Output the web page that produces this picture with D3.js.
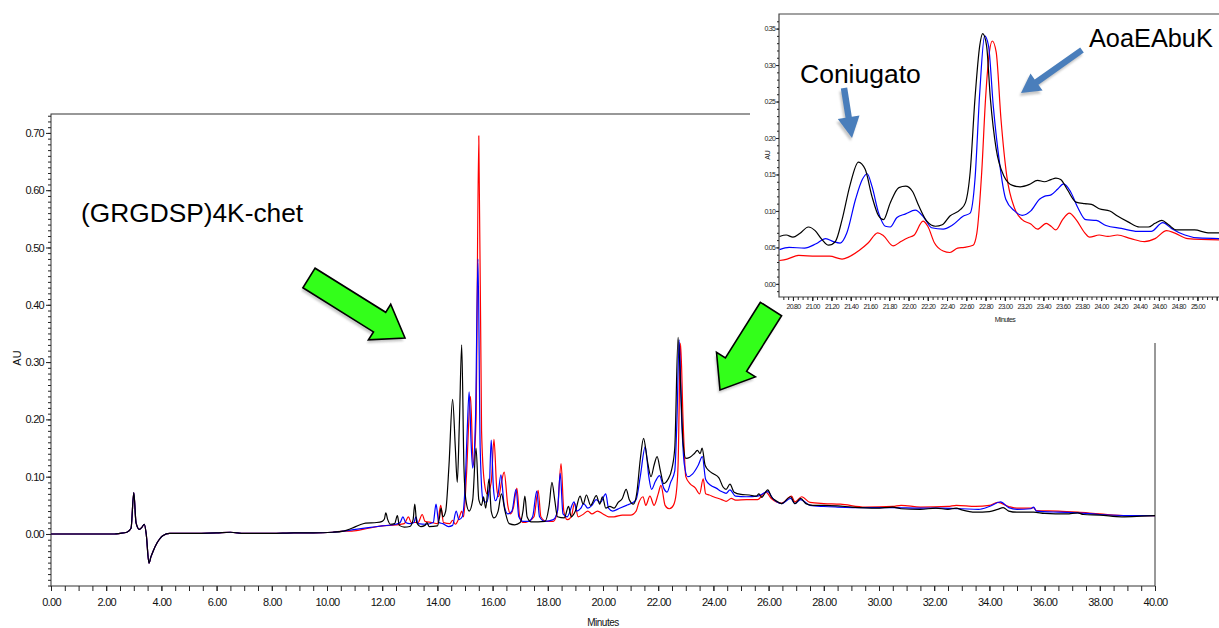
<!DOCTYPE html>
<html><head><meta charset="utf-8">
<script src="https://cdn.jsdelivr.net/npm/d3@7"></script>
<style>
html,body{margin:0;padding:0;background:#fff;}
svg{display:block;font-family:"Liberation Sans",Arial,Helvetica,sans-serif;}
</style></head><body>
<svg id="chart" width="1219" height="628"></svg>
<script>
// ---- Chromatogram traces: [time (min), absorbance (AU)] ----
// Shared injection region, identical for the three runs
const sharedBaseline = [[0,0],[2.3,0],[2.5,0.001],[2.75,0.003],[2.9,0.01],[3.0,0.072],[3.08,0.02],[3.2,0.008],[3.3,0.012],[3.38,0.017],[3.45,0.0],[3.55,-0.051],[3.62,-0.04],[3.7,-0.03],[3.85,-0.015],[4.05,-0.003],[4.3,0.001],[5.0,0.001],[6.0,0.002],[6.5,0.003],[7.0,0.001],[8.0,0.001],[8.8,0.002],[9.5,0.002],[10.2,0.003],[10.6,0.005]];

const blackTrace = [[10.9,0.01],[11.2,0.016],[11.4,0.019],[11.8,0.02],[12.0,0.022],[12.08,0.026],[12.13,0.037],[12.2,0.025],[12.3,0.017],[12.45,0.018],[12.55,0.032],[12.62,0.015],[12.8,0.012],[13.0,0.013],[13.12,0.025],[13.18,0.052],[13.25,0.02],[13.4,0.013],[13.55,0.015],[13.62,0.02],[13.7,0.013],[14.0,0.014],[14.08,0.03],[14.13,0.045],[14.2,0.03],[14.3,0.04],[14.42,0.12],[14.55,0.235],[14.65,0.15],[14.72,0.09],[14.8,0.2],[14.88,0.33],[14.96,0.12],[15.03,0.06],[15.15,0.04],[15.28,0.06],[15.4,0.15],[15.5,0.06],[15.6,0.05],[15.67,0.065],[15.75,0.045],[15.87,0.096],[15.95,0.04],[16.05,0.028],[16.2,0.04],[16.32,0.07],[16.45,0.04],[16.6,0.018],[16.8,0.016],[17.0,0.02],[17.1,0.04],[17.17,0.066],[17.25,0.03],[17.4,0.021],[17.9,0.022],[18.05,0.05],[18.15,0.09],[18.25,0.06],[18.35,0.03],[18.6,0.028],[18.75,0.048],[18.85,0.03],[19.0,0.04],[19.17,0.066],[19.28,0.052],[19.4,0.068],[19.55,0.05],[19.76,0.067],[19.88,0.052],[19.98,0.065],[20.1,0.045],[20.25,0.048],[20.4,0.045],[20.55,0.055],[20.7,0.062],[20.84,0.078],[20.95,0.06],[21.1,0.052],[21.22,0.07],[21.35,0.13],[21.47,0.167],[21.6,0.13],[21.74,0.1],[21.85,0.12],[21.96,0.135],[22.08,0.11],[22.2,0.088],[22.35,0.095],[22.5,0.115],[22.6,0.15],[22.72,0.343],[22.82,0.25],[22.9,0.16],[23.0,0.132],[23.15,0.134],[23.3,0.14],[23.42,0.146],[23.52,0.14],[23.59,0.15],[23.7,0.12],[23.85,0.11],[24.0,0.105],[24.2,0.098],[24.35,0.082],[24.46,0.078],[24.6,0.087],[24.75,0.073],[25.0,0.069],[25.3,0.068],[25.55,0.066],[25.65,0.07],[25.75,0.064],[25.97,0.077],[26.1,0.065],[26.3,0.057],[26.47,0.053],[26.8,0.065],[26.95,0.053],[27.16,0.062],[27.35,0.053],[27.6,0.05],[28.0,0.05],[28.5,0.049],[29.0,0.047],[29.9,0.045],[30.5,0.047],[30.8,0.044],[31.5,0.043],[32.06,0.045],[32.5,0.043],[32.8,0.045],[33.0,0.042],[33.5,0.038],[34.0,0.039],[34.3,0.043],[34.5,0.046],[34.7,0.04],[35.0,0.038],[35.6,0.038],[36.0,0.036],[36.8,0.035],[37.2,0.037],[37.4,0.034],[38.0,0.033],[38.8,0.03],[39.5,0.031],[40.0,0.032]];

const blueTrace = [[10.9,0.007],[11.5,0.011],[12.0,0.014],[12.5,0.017],[12.65,0.02],[12.75,0.03],[12.85,0.02],[13.0,0.018],[13.15,0.02],[13.22,0.03],[13.3,0.018],[13.6,0.017],[13.85,0.02],[13.95,0.052],[14.05,0.02],[14.2,0.018],[14.4,0.013],[14.55,0.015],[14.68,0.04],[14.78,0.025],[14.9,0.03],[15.0,0.08],[15.08,0.18],[15.15,0.248],[15.22,0.16],[15.28,0.115],[15.38,0.2],[15.47,0.48],[15.55,0.15],[15.65,0.06],[15.78,0.055],[15.88,0.08],[15.95,0.164],[16.03,0.08],[16.1,0.058],[16.2,0.07],[16.3,0.103],[16.42,0.05],[16.55,0.035],[16.7,0.04],[16.85,0.078],[16.95,0.03],[17.1,0.022],[17.3,0.022],[17.45,0.03],[17.6,0.075],[17.7,0.03],[17.9,0.022],[18.2,0.025],[18.35,0.04],[18.45,0.106],[18.55,0.035],[18.7,0.03],[18.95,0.056],[19.05,0.04],[19.2,0.045],[19.3,0.053],[19.45,0.045],[19.6,0.05],[19.75,0.06],[19.9,0.055],[20.1,0.07],[20.2,0.045],[20.35,0.04],[20.6,0.045],[20.85,0.05],[21.05,0.054],[21.2,0.06],[21.35,0.1],[21.53,0.152],[21.66,0.1],[21.76,0.078],[21.9,0.092],[22.05,0.102],[22.2,0.08],[22.32,0.073],[22.45,0.09],[22.6,0.11],[22.68,0.2],[22.76,0.339],[22.85,0.2],[22.95,0.12],[23.07,0.1],[23.25,0.105],[23.45,0.12],[23.6,0.135],[23.72,0.095],[23.9,0.085],[24.1,0.08],[24.3,0.074],[24.46,0.071],[24.6,0.077],[24.8,0.066],[25.2,0.065],[25.6,0.066],[25.97,0.074],[26.15,0.062],[26.47,0.053],[26.8,0.062],[26.95,0.053],[27.16,0.06],[27.5,0.05],[28.0,0.048],[28.5,0.047],[29.5,0.046],[30.5,0.046],[31.5,0.045],[32.2,0.045],[33.0,0.044],[33.6,0.043],[34.0,0.048],[34.4,0.056],[34.7,0.046],[35.0,0.043],[35.5,0.044],[35.6,0.047],[35.7,0.04],[36.5,0.038],[37.2,0.037],[38.0,0.034],[39.0,0.032],[40.0,0.032]];

const redTrace = [[10.9,0.005],[11.5,0.01],[12.0,0.014],[12.5,0.016],[12.8,0.018],[12.95,0.03],[13.05,0.02],[13.3,0.02],[13.45,0.034],[13.55,0.022],[13.8,0.02],[14.0,0.018],[14.12,0.05],[14.22,0.02],[14.45,0.018],[14.55,0.024],[14.65,0.017],[14.8,0.03],[14.88,0.04],[14.95,0.03],[15.05,0.1],[15.2,0.24],[15.3,0.12],[15.4,0.2],[15.5,0.695],[15.6,0.18],[15.7,0.09],[15.8,0.07],[15.95,0.09],[16.05,0.165],[16.15,0.08],[16.22,0.065],[16.32,0.09],[16.42,0.108],[16.55,0.05],[16.65,0.035],[16.75,0.045],[16.88,0.08],[16.98,0.03],[17.1,0.02],[17.3,0.022],[17.5,0.03],[17.65,0.076],[17.75,0.03],[17.95,0.022],[18.2,0.022],[18.35,0.04],[18.48,0.123],[18.58,0.04],[18.7,0.025],[18.85,0.03],[18.97,0.054],[19.1,0.03],[19.3,0.035],[19.45,0.04],[19.6,0.035],[19.8,0.04],[20.0,0.035],[20.2,0.03],[20.4,0.03],[20.7,0.033],[21.0,0.033],[21.2,0.04],[21.3,0.055],[21.45,0.065],[21.55,0.05],[21.7,0.066],[21.85,0.05],[22.0,0.07],[22.1,0.085],[22.25,0.05],[22.4,0.044],[22.55,0.05],[22.65,0.07],[22.72,0.12],[22.81,0.333],[22.9,0.2],[23.0,0.1],[23.15,0.088],[23.35,0.08],[23.5,0.07],[23.63,0.096],[23.72,0.07],[23.85,0.068],[24.0,0.065],[24.3,0.06],[24.46,0.057],[24.65,0.062],[24.8,0.059],[25.2,0.06],[25.6,0.06],[25.9,0.073],[26.1,0.062],[26.47,0.054],[26.83,0.066],[26.95,0.056],[27.2,0.065],[27.5,0.055],[28.0,0.053],[28.6,0.052],[29.5,0.047],[30.5,0.048],[30.8,0.05],[31.5,0.047],[32.5,0.048],[32.8,0.05],[33.5,0.048],[34.0,0.05],[34.3,0.055],[34.7,0.048],[35.0,0.045],[35.5,0.045],[35.6,0.046],[35.7,0.041],[36.5,0.04],[37.2,0.038],[38.0,0.035],[39.0,0.032],[40.0,0.032]];

// Expanded view of the 20.6 – 25.3 min window
const insetBlack = [[20.66,0.065],[20.73,0.067],[20.8,0.064],[20.87,0.069],[20.96,0.078],[21.03,0.073],[21.1,0.061],[21.17,0.053],[21.24,0.058],[21.31,0.088],[21.39,0.134],[21.48,0.167],[21.55,0.157],[21.62,0.12],[21.69,0.093],[21.74,0.088],[21.81,0.111],[21.9,0.132],[21.97,0.134],[22.04,0.127],[22.11,0.106],[22.19,0.086],[22.28,0.079],[22.35,0.081],[22.43,0.093],[22.54,0.102],[22.59,0.111],[22.64,0.153],[22.69,0.254],[22.74,0.327],[22.77,0.343],[22.81,0.327],[22.85,0.254],[22.91,0.185],[22.99,0.148],[23.08,0.135],[23.16,0.133],[23.25,0.136],[23.34,0.142],[23.41,0.14],[23.48,0.143],[23.53,0.145],[23.58,0.143],[23.65,0.129],[23.74,0.112],[23.83,0.11],[23.9,0.109],[23.98,0.103],[24.09,0.1],[24.17,0.093],[24.28,0.085],[24.4,0.078],[24.49,0.078],[24.56,0.083],[24.63,0.087],[24.7,0.081],[24.78,0.074],[24.97,0.074],[25.11,0.07],[25.3,0.07]];
const insetBlue = [[20.66,0.047],[20.76,0.05],[20.92,0.049],[21.04,0.055],[21.14,0.062],[21.22,0.058],[21.29,0.056],[21.36,0.07],[21.45,0.116],[21.52,0.143],[21.57,0.151],[21.62,0.134],[21.69,0.097],[21.76,0.079],[21.81,0.078],[21.88,0.091],[21.97,0.096],[22.07,0.101],[22.16,0.091],[22.24,0.077],[22.36,0.075],[22.45,0.08],[22.57,0.093],[22.64,0.097],[22.69,0.143],[22.74,0.263],[22.79,0.34],[22.83,0.327],[22.88,0.244],[22.94,0.171],[23.01,0.116],[23.1,0.1],[23.18,0.094],[23.27,0.1],[23.36,0.116],[23.41,0.12],[23.48,0.122],[23.55,0.13],[23.61,0.137],[23.68,0.127],[23.76,0.104],[23.84,0.088],[23.95,0.087],[24.05,0.08],[24.21,0.076],[24.38,0.072],[24.52,0.072],[24.64,0.084],[24.73,0.076],[24.87,0.067],[25.01,0.063],[25.3,0.062]];
const insetRed = [[20.66,0.032],[20.74,0.034],[20.86,0.039],[21.04,0.038],[21.18,0.038],[21.31,0.034],[21.38,0.037],[21.49,0.046],[21.58,0.056],[21.68,0.07],[21.74,0.066],[21.84,0.052],[21.92,0.058],[21.99,0.063],[22.06,0.067],[22.15,0.086],[22.2,0.079],[22.27,0.056],[22.36,0.045],[22.43,0.043],[22.51,0.049],[22.58,0.05],[22.67,0.053],[22.71,0.07],[22.76,0.153],[22.8,0.254],[22.84,0.318],[22.87,0.333],[22.91,0.318],[22.96,0.226],[23.02,0.148],[23.1,0.104],[23.18,0.088],[23.27,0.082],[23.34,0.075],[23.43,0.083],[23.48,0.079],[23.53,0.074],[23.6,0.088],[23.67,0.097],[23.74,0.088],[23.83,0.07],[23.88,0.064],[23.98,0.067],[24.07,0.065],[24.17,0.067],[24.31,0.062],[24.45,0.058],[24.56,0.062],[24.68,0.073],[24.76,0.07],[24.9,0.062],[25.3,0.06]];

// Axis ticks
const mainXTicks = [0,2,4,6,8,10,12,14,16,18,20,22,24,26,28,30,32,34,36,38,40];
const mainYTicks = [0,0.1,0.2,0.3,0.4,0.5,0.6,0.7];
const insetXTicks = [20.8,21.0,21.2,21.4,21.6,21.8,22.0,22.2,22.4,22.6,22.8,23.0,23.2,23.4,23.6,23.8,24.0,24.2,24.4,24.6,24.8,25.0];
const insetXTickMarks = [20.8,21.0,21.2,21.4,21.6,21.8,22.0,22.2,22.4,22.6,22.8,23.0,23.2,23.4,23.6,23.8,24.0,24.2,24.4,24.6,24.8,25.0,25.2,25.4];
const insetYTicks = [0,0.05,0.10,0.15,0.20,0.25,0.30,0.35];

const runColors = {red:"#ff0000", blue:"#0000ff", black:"#000000"};

const svg = d3.select("#chart");
const fmt = d3.format(".2f");

// ---- defs: soft grey shadow under the call-out arrows ----
const defs = svg.append("defs");
const sh = defs.append("filter").attr("id","shadow").attr("x","-20%").attr("y","-20%").attr("width","140%").attr("height","140%");
sh.append("feGaussianBlur").attr("stdDeviation",0.9);

// ================= main chromatogram =================
const M = {left:51, right:1155, top:114, bottom:586};
const x = d3.scaleLinear().domain([0,40]).range([M.left, M.right]);
const y = d3.scaleLinear().domain([-0.0908, 0.733]).range([M.bottom, M.top]);

const main = svg.append("g");

// frame
main.append("rect").attr("x",M.left).attr("y",M.top)
  .attr("width",M.right-M.left).attr("height",M.bottom-M.top)
  .attr("fill","none").attr("stroke","#333").attr("stroke-width",1);

// x axis (major + minor ticks)
const xMinor = d3.range(0, 40.001, 0.5);
main.append("g").attr("transform",`translate(0,${M.bottom})`)
  .call(d3.axisBottom(x).tickValues(xMinor).tickSize(5).tickFormat(""))
  .call(g=>g.select(".domain").remove())
  .call(g=>g.selectAll("line").attr("stroke","#222"));
main.append("g").attr("transform",`translate(0,${M.bottom})`)
  .call(d3.axisBottom(x).tickValues(mainXTicks).tickSize(5).tickPadding(7).tickFormat(fmt))
  .call(g=>g.select(".domain").remove())
  .call(g=>g.selectAll("line").attr("stroke","#222"))
  .call(g=>g.selectAll("text").attr("font-size",11).attr("letter-spacing","-0.7px")
      .attr("fill","#111").attr("font-family","'Liberation Sans',Arial,sans-serif"));

// y axis (major + minor ticks)
const yMinor = d3.range(-9, 74).map(d=>d/100);
main.append("g").attr("transform",`translate(${M.left},0)`)
  .call(d3.axisLeft(y).tickValues(yMinor).tickSize(3).tickFormat(""))
  .call(g=>g.select(".domain").remove())
  .call(g=>g.selectAll("line").attr("stroke","#222"));
main.append("g").attr("transform",`translate(${M.left},0)`)
  .call(d3.axisLeft(y).tickValues(mainYTicks).tickSize(5).tickPadding(2).tickFormat(fmt))
  .call(g=>g.select(".domain").remove())
  .call(g=>g.selectAll("line").attr("stroke","#222"))
  .call(g=>g.selectAll("text").attr("font-size",11).attr("letter-spacing","-0.7px")
      .attr("fill","#111").attr("font-family","'Liberation Sans',Arial,sans-serif"));

main.append("text").attr("x",M.left+(M.right-M.left)/2).attr("y",626)
  .attr("text-anchor","middle").attr("font-size",10).attr("letter-spacing","-0.5px").attr("fill","#111").text("Minutes");
main.append("text").attr("transform",`translate(21,${(M.top+M.bottom)/2+8}) rotate(-90)`)
  .attr("text-anchor","middle").attr("font-size",11).attr("fill","#111").text("AU");

const line = d3.line().x(d=>x(d[0])).y(d=>y(d[1])).curve(d3.curveMonotoneX);
const runs = [
  {name:"red", data: sharedBaseline.concat(redTrace)},
  {name:"blue", data: sharedBaseline.concat(blueTrace)},
  {name:"black", data: sharedBaseline.concat(blackTrace)}
];
main.selectAll("path.run").data(runs).join("path").attr("class","run")
  .attr("d",d=>line(d.data)).attr("fill","none")
  .attr("stroke",d=>runColors[d.name]).attr("stroke-width",1.2).attr("stroke-linejoin","round");

main.append("text").attr("x",81).attr("y",222).attr("font-size",26.3).attr("fill","#000")
  .text("(GRGDSP)4K-chet");

// ================= inset (expanded window) =================
const I = {left:779, top:14, bottom:297, right:1250};
const inset = svg.append("g");
inset.append("rect").attr("x",750).attr("y",0).attr("width",469).attr("height",343).attr("fill","#fff");

const xi = d3.scaleLinear().domain([20.655, 25.546]).range([I.left, I.right]);
const yi = d3.scaleLinear().domain([-0.018, 0.37]).range([I.bottom, I.top]);

inset.append("path")
  .attr("d",`M${I.right},${I.top}H${I.left}V${I.bottom}H${I.right}`)
  .attr("fill","none").attr("stroke","#444").attr("stroke-width",1.2);

const ixMinor = d3.range(20.7, 25.5, 0.05);
inset.append("g").attr("transform",`translate(0,${I.bottom})`)
  .call(d3.axisBottom(xi).tickValues(ixMinor).tickSize(3).tickFormat(""))
  .call(g=>g.select(".domain").remove())
  .call(g=>g.selectAll("line").attr("stroke","#222"));
inset.append("g").attr("transform",`translate(0,${I.bottom})`)
  .call(d3.axisBottom(xi).tickValues(insetXTickMarks).tickSize(4).tickFormat(""))
  .call(g=>g.select(".domain").remove())
  .call(g=>g.selectAll("line").attr("stroke","#222"));
inset.append("g").attr("transform",`translate(0,${I.bottom})`)
  .call(d3.axisBottom(xi).tickValues(insetXTicks).tickSize(4).tickPadding(3).tickFormat(fmt))
  .call(g=>g.select(".domain").remove())
  .call(g=>g.selectAll("line").attr("stroke","#222"))
  .call(g=>g.selectAll("text").attr("font-size",7).attr("letter-spacing","-0.7px")
      .attr("fill","#222").attr("font-family","'Liberation Sans',Arial,sans-serif"));

const iyMinor = d3.range(-1, 37).map(d=>d/100);
inset.append("g").attr("transform",`translate(${I.left},0)`)
  .call(d3.axisLeft(yi).tickValues(iyMinor).tickSize(2).tickFormat(""))
  .call(g=>g.select(".domain").remove())
  .call(g=>g.selectAll("line").attr("stroke","#222"));
inset.append("g").attr("transform",`translate(${I.left},0)`)
  .call(d3.axisLeft(yi).tickValues(insetYTicks).tickSize(3).tickPadding(1).tickFormat(fmt))
  .call(g=>g.select(".domain").remove())
  .call(g=>g.selectAll("line").attr("stroke","#222"))
  .call(g=>g.selectAll("text").attr("font-size",7).attr("letter-spacing","-0.8px")
      .attr("fill","#222").attr("font-family","'Liberation Sans',Arial,sans-serif"));

inset.append("text").attr("x",1005).attr("y",322).attr("text-anchor","middle")
  .attr("font-size",7).attr("letter-spacing","-0.6px").attr("fill","#222").text("Minutes");
inset.append("text").attr("transform",`translate(770,${155}) rotate(-90)`)
  .attr("text-anchor","middle").attr("font-size",7).attr("fill","#222").text("AU");

const iline = d3.line().x(d=>xi(d[0])).y(d=>yi(d[1])).curve(d3.curveMonotoneX);
const insetRuns = [
  {name:"red", data: insetRed},
  {name:"blue", data: insetBlue},
  {name:"black", data: insetBlack}
];
inset.selectAll("path.irun").data(insetRuns).join("path").attr("class","irun")
  .attr("d",d=>iline(d.data)).attr("fill","none")
  .attr("stroke",d=>runColors[d.name]).attr("stroke-width",1.2).attr("stroke-linejoin","round");

inset.append("text").attr("x",800).attr("y",83).attr("font-size",26.5).attr("fill","#000").text("Coniugato");
inset.append("text").attr("x",1089).attr("y",47).attr("font-size",25.3).attr("fill","#000").text("AoaEAbuK");

// ================= call-out arrows =================
function blockArrow(tail, tip, shaftHalf, headHalf, headLen){
  const dx = tip[0]-tail[0], dy = tip[1]-tail[1];
  const L = Math.hypot(dx,dy), ux = dx/L, uy = dy/L, px = -uy, py = ux;
  const bx = tip[0]-ux*headLen, by = tip[1]-uy*headLen;
  const pts = [
    [tail[0]+px*shaftHalf, tail[1]+py*shaftHalf],
    [bx+px*shaftHalf, by+py*shaftHalf],
    [bx+px*headHalf, by+py*headHalf],
    tip,
    [bx-px*headHalf, by-py*headHalf],
    [bx-px*shaftHalf, by-py*shaftHalf],
    [tail[0]-px*shaftHalf, tail[1]-py*shaftHalf]
  ];
  return "M"+pts.map(p=>p[0].toFixed(1)+","+p[1].toFixed(1)).join("L")+"Z";
}

const callouts = [
  {tail:[309,278], tip:[405,338], shaft:11.5, head:21, len:30, fill:"#33ff1a", stroke:"#000", sw:1.6},
  {tail:[771,309], tip:[720,390], shaft:12.5, head:23, len:30, fill:"#33ff1a", stroke:"#000", sw:1.6},
  {tail:[844,88], tip:[852,138], shaft:3.2, head:11, len:21, fill:"#4a7ebb", stroke:"none", sw:0},
  {tail:[1082,50], tip:[1021,93], shaft:3.2, head:10.5, len:19, fill:"#4a7ebb", stroke:"none", sw:0}
];
const ag = svg.append("g");
callouts.forEach(c=>{
  const d = blockArrow(c.tail, c.tip, c.shaft, c.head, c.len);
  ag.append("path").attr("d",d).attr("transform","translate(-1.5,3)")
    .attr("fill","#b5b5b5").attr("opacity",0.75).attr("filter","url(#shadow)");
  ag.append("path").attr("d",d).attr("fill",c.fill)
    .attr("stroke",c.stroke).attr("stroke-width",c.sw).attr("stroke-linejoin","miter");
});
</script></body></html>
